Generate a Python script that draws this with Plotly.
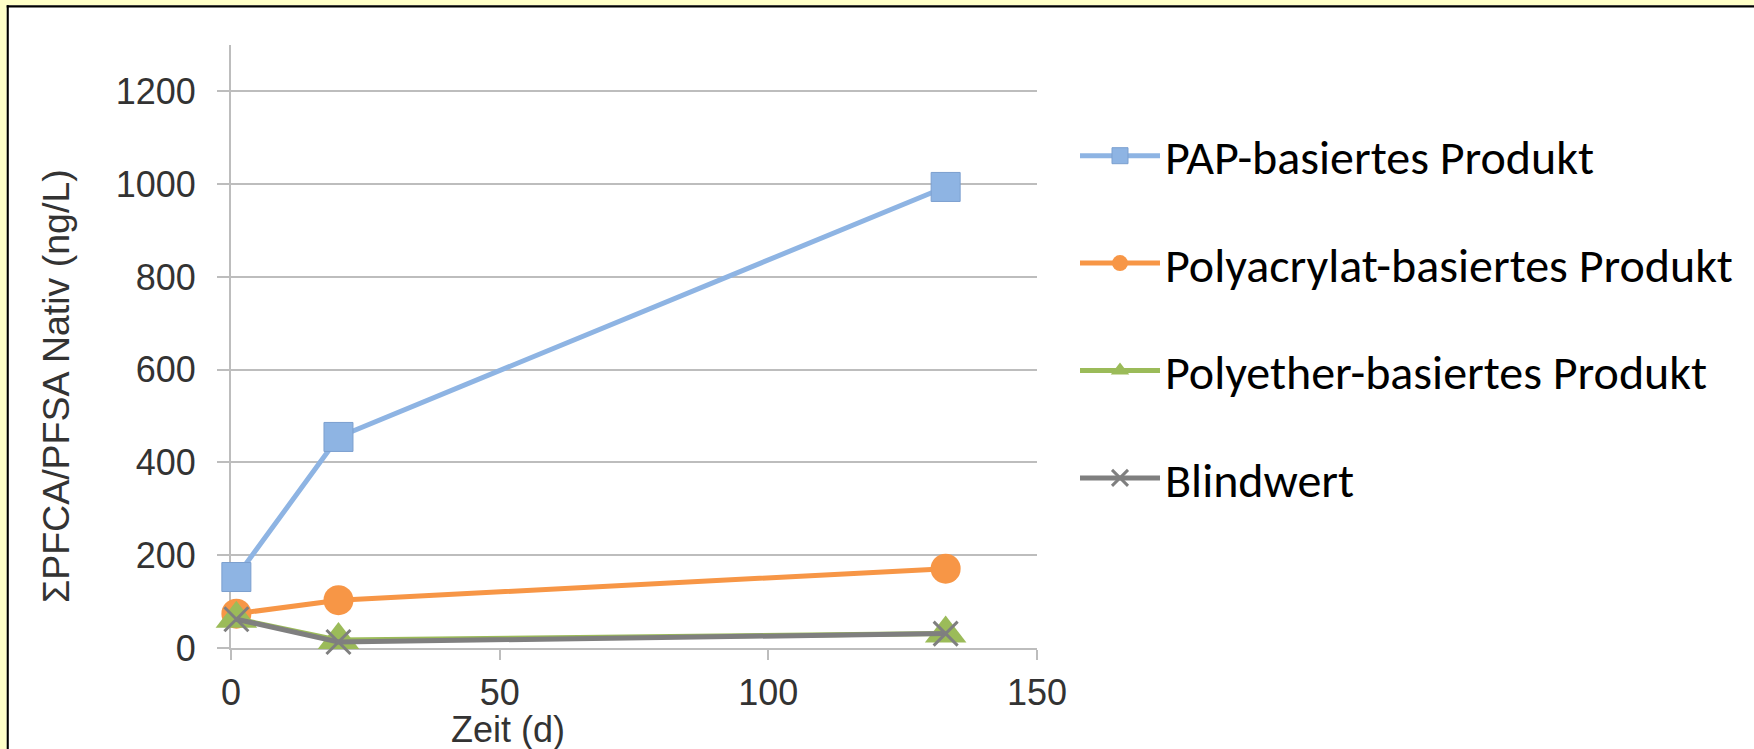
import plotly.graph_objects as go

# Messzeitpunkte (Tage) und Summenkonzentrationen (ng/L)
zeit = [1, 20, 133]
pap_basiert = [153, 455, 994]
polyacrylat_basiert = [74, 103, 171]
polyether_basiert = [63, 17, 31]
blindwert = [62, 13, 31]

serien_namen = [
    "PAP-basiertes Produkt",
    "Polyacrylat-basiertes Produkt",
    "Polyether-basiertes Produkt",
    "Blindwert",
]

x_ticks = [0, 50, 100, 150]
y_ticks = [0, 200, 400, 600, 800, 1000, 1200]

W, H = 1754, 749
ML, MR, MT, MB = 231, 717, 45, 101
PW, PH = W - ML - MR, H - MT - MB

GRID = "#BDBDBD"
TICKFONT = dict(family="Liberation Sans, Arial, sans-serif", size=36, color="#333333")
YTITLEFONT = dict(family="Liberation Sans, Arial, sans-serif", size=37.5, color="#333333")
LEGFONT = dict(family="Carlito, Lato, sans-serif", size=48, color="#000000")


def px_x(px):
    return (px - ML) / PW


def px_y(py):
    return (H - MB - py) / PH


fig = go.Figure()

fig.add_trace(go.Scatter(
    x=zeit, y=pap_basiert, name=serien_namen[0], legendgroup="a",
    mode="lines+markers", cliponaxis=False,
    line=dict(color="#8EB4E3", width=5),
    marker=dict(symbol="square", size=29, color="#8EB4E3",
                line=dict(color="#7B9FCF", width=1)),
))
fig.add_trace(go.Scatter(
    x=zeit, y=polyacrylat_basiert, name=serien_namen[1], legendgroup="b",
    mode="lines+markers", cliponaxis=False,
    line=dict(color="#F79646", width=5),
    marker=dict(symbol="circle", size=30, color="#F79646", line=dict(width=0)),
))
fig.add_trace(go.Scatter(
    x=zeit, y=polyether_basiert, name=serien_namen[2], legendgroup="c",
    mode="lines+markers", cliponaxis=False,
    line=dict(color="#9BBB59", width=5),
    marker=dict(symbol="triangle-up", size=36, color="#9BBB59", line=dict(width=0)),
))
fig.add_trace(go.Scatter(
    x=zeit, y=blindwert, name=serien_namen[3], legendgroup="d",
    mode="lines+markers", cliponaxis=False,
    line=dict(color="#7F7F7F", width=5),
    marker=dict(symbol="x-thin", size=24, color="#7F7F7F",
                line=dict(color="#7F7F7F", width=3)),
))

# Rahmen: gelber Streifen oben/links mit schwarzer Kante
shapes = [
    dict(type="rect", xref="paper", yref="paper",
         x0=px_x(0), x1=px_x(W), y0=px_y(0), y1=px_y(5.3),
         fillcolor="#FFFFC8", line=dict(width=0), layer="below"),
    dict(type="rect", xref="paper", yref="paper",
         x0=px_x(0), x1=px_x(6.7), y0=px_y(0), y1=px_y(H),
         fillcolor="#FFFFC8", line=dict(width=0), layer="below"),
    dict(type="rect", xref="paper", yref="paper",
         x0=px_x(6.7), x1=px_x(W), y0=px_y(5.3), y1=px_y(7.5),
         fillcolor="#000000", line=dict(width=0), layer="below"),
    dict(type="rect", xref="paper", yref="paper",
         x0=px_x(6.7), x1=px_x(8.8), y0=px_y(5.3), y1=px_y(H),
         fillcolor="#000000", line=dict(width=0), layer="below"),
]

annotations = [
    dict(text="Zeit (d)", xref="paper", yref="paper",
         x=px_x(508), y=px_y(729), xanchor="center", yanchor="middle",
         showarrow=False, font=TICKFONT),
    dict(text="ΣPFCA/PFSA Nativ (ng/L)", xref="paper", yref="paper",
         x=px_x(56), y=px_y(386), xanchor="center", yanchor="middle",
         textangle=-90, showarrow=False, font=YTITLEFONT),
]

fig.update_layout(
    width=W, height=H,
    margin=dict(l=ML, r=MR, t=MT, b=MB, pad=0, autoexpand=False),
    paper_bgcolor="#FFFFFF", plot_bgcolor="#FFFFFF",
    shapes=shapes, annotations=annotations,
    showlegend=True,
    legend=dict(
        x=px_x(1075), xanchor="left",
        y=px_y(118), yanchor="top",
        font=LEGFONT, tracegroupgap=42, itemwidth=80,
        bgcolor="rgba(0,0,0,0)", borderwidth=0,
    ),
    xaxis=dict(
        range=[0, 150], tickvals=x_ticks, showgrid=False, zeroline=False,
        showline=True, linecolor=GRID, linewidth=2,
        ticks="outside", ticklen=10, tickwidth=2, tickcolor=GRID,
        tickfont=TICKFONT, ticklabelstandoff=2, layer="below traces",
    ),
    yaxis=dict(
        range=[0, 1300], tickvals=y_ticks, showgrid=True, gridcolor=GRID,
        gridwidth=2, zeroline=False,
        showline=True, linecolor=GRID, linewidth=2,
        ticks="outside", ticklen=12, tickwidth=2, tickcolor=GRID,
        tickfont=TICKFONT, ticklabelstandoff=14, layer="below traces",
    ),
)

fig.write_html("out.html")
